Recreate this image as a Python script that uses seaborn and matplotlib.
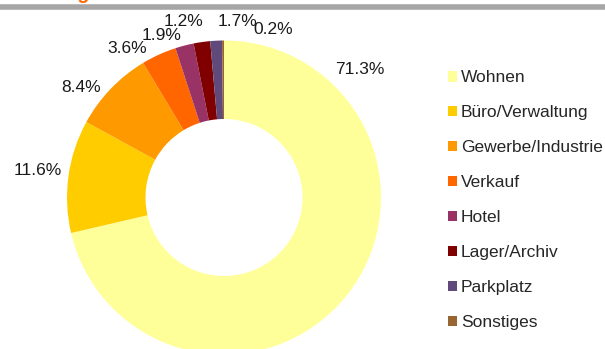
import matplotlib
matplotlib.use("Agg")
import matplotlib.pyplot as plt
import seaborn as sns

# Flächenanteile nach Nutzungsart (in %)
categories = ["Wohnen", "Büro/Verwaltung", "Gewerbe/Industrie", "Verkauf",
              "Hotel", "Lager/Archiv", "Parkplatz", "Sonstiges"]
shares = [71.3, 11.6, 8.4, 3.6, 1.9, 1.7, 1.2, 0.2]
colors = ["#FFFF99", "#FFCC00", "#FF9900", "#FF6600",
          "#993366", "#800000", "#604A7B", "#996633"]

# Label placement (in units of the outer radius, relative to the ring centre)
label_pos = [(0.866, 0.818), (-1.188, 0.175), (-0.911, 0.700), (-0.618, 0.952),
             (-0.395, 1.035), (0.089, 1.124), (-0.255, 1.118), (0.312, 1.067)]

sns.set_theme(style="white")
plt.rcParams["font.family"] = ["Liberation Sans", "DejaVu Sans"]
palette = sns.color_palette(colors)

W, H = 605, 349
fig = plt.figure(figsize=(W / 100, H / 100), dpi=100)

# ring centre and radius in pixels
cx, cy, R = 224, 349 - 197.5, 157
ax = fig.add_axes([(cx - R) / W, (cy - R) / H, 2 * R / W, 2 * R / H])
wedges, _ = ax.pie(shares, colors=palette, startangle=90, counterclock=False,
                   radius=1.0, wedgeprops=dict(width=0.5, linewidth=0))
ax.set_xlim(-1, 1)
ax.set_ylim(-1, 1)
ax.set_aspect("equal")
ax.axis("off")

for val, (lx, ly) in zip(shares, label_pos):
    ax.text(lx, ly, f"{val:.1f}%", ha="center", va="center",
            fontsize=12.5, color="#1a1a1a", clip_on=False)

leg = fig.legend(wedges, categories, loc="upper left",
                 bbox_to_anchor=(441 / W, 1 - 63.5 / H), frameon=False,
                 fontsize=12.5, handlelength=0.55, handleheight=0.55,
                 handletextpad=0.2, labelspacing=1.15, borderaxespad=0)

# header rule and title above the chart
fig.add_artist(plt.Line2D([0, 1], [1 - 6.7 / H, 1 - 6.7 / H], transform=fig.transFigure,
                          color="#A6A6A6", linewidth=4.0))
fig.text(12 / W, 1 + 1 / H, "Nutzung", color="#FF6600", fontsize=14,
         fontweight="bold", va="baseline", ha="left")

fig.savefig("out.png", dpi=100)
